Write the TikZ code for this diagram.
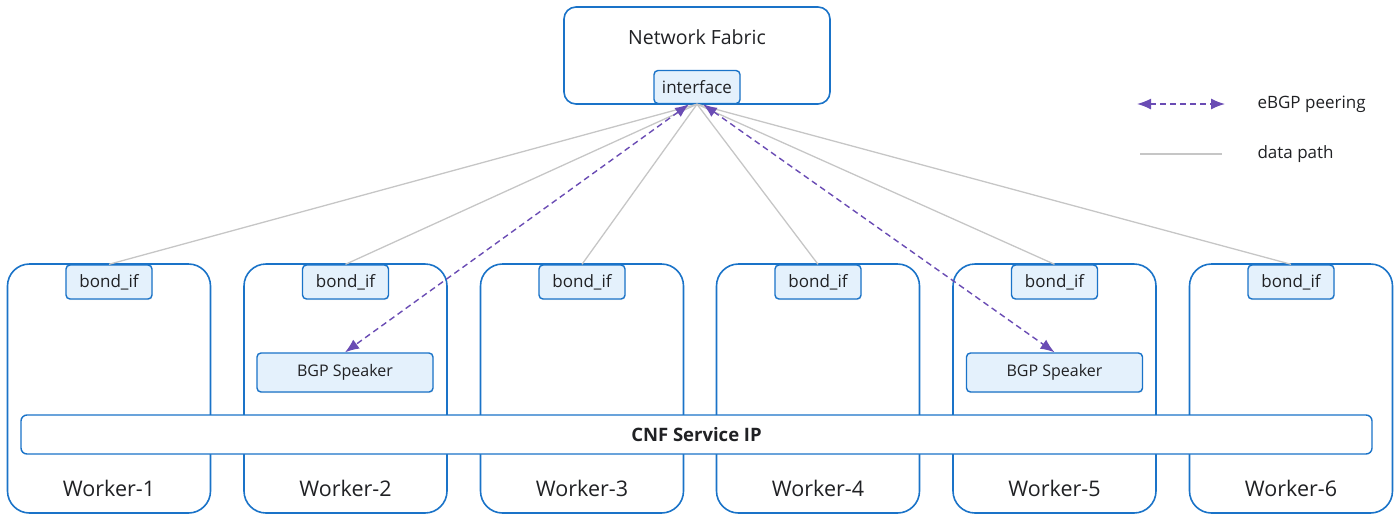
\documentclass[tikz,border=0pt]{standalone}
\usepackage{fontspec}
\setmainfont{Open Sans}
\usetikzlibrary{arrows.meta,positioning,shadows}
\definecolor{boxblue}{HTML}{1A73C8}
\definecolor{paleblue}{HTML}{E4F1FC}
\definecolor{peerpurple}{HTML}{6A4CB4}
\definecolor{pathgray}{HTML}{C6C6C6}
\definecolor{inktext}{HTML}{202124}

\begin{document}
\begin{tikzpicture}[
  x=1pt, y=-1pt, >=Latex, text=inktext,
  font=\fontsize{17}{20}\selectfont,
  workerbox/.style={draw=boxblue, line width=1.6pt, fill=white, rounded corners=22pt,
    minimum width=203pt, minimum height=249pt, inner sep=0pt},
  fabricbox/.style={draw=boxblue, line width=1.6pt, fill=white, rounded corners=12pt,
    minimum width=266pt, minimum height=97pt, inner sep=0pt},
  ifbox/.style={draw=boxblue, line width=1.4pt, fill=paleblue, rounded corners=4pt,
    minimum width=86pt, minimum height=34pt, inner sep=0pt,
    drop shadow={opacity=0.12, shadow xshift=0.6pt, shadow yshift=-1.2pt}},
  speakerbox/.style={ifbox, minimum width=176pt, minimum height=39pt,
    font=\fontsize{16}{19}\selectfont},
  servicebar/.style={draw=boxblue, line width=1.4pt, fill=white, rounded corners=6pt,
    minimum width=1351pt, minimum height=39pt, inner sep=0pt},
  datapath/.style={draw=pathgray, line width=1.3pt},
  peer/.style={<->, draw=peerpurple, line width=1.4pt, dash pattern=on 6pt off 4pt,
    >={Latex[length=14pt,width=11pt]}}
]
\useasboundingbox (0,0) rectangle (1400,520);

% -- Six worker nodes side by side, each with its bond interface on top.
\foreach \i/\x in {1/109,2/345.5,3/582,4/818,5/1054.5,6/1291} {
  \node[workerbox] (w\i) at (\x,388.5) {};
  \node[font=\fontsize{21.5}{25}\selectfont] (wl\i) at (\x,488) {Worker-\i};
}

% -- Service IP bar runs across all workers.
\node[servicebar] (cnf) at (696.5,434.5) {\fontsize{18.5}{22}\selectfont\bfseries CNF Service IP};

\foreach \i/\x in {1/109,2/345.5,3/582,4/818,5/1054.5,6/1291}
  \node[ifbox] (b\i) at (\x,282) {bond\_if};

% -- BGP speakers only on worker-2 and worker-5.
\node[speakerbox] (bgp2) at (345,372.5)  {BGP Speaker};
\node[speakerbox] (bgp5) at (1054.5,372.5) {BGP Speaker};

% -- Fabric on top with its interface.
\node[fabricbox] (fabric) at (697,55.5) {};
\node[font=\fontsize{19.5}{23}\selectfont] (fabname) at (697,37) {Network Fabric};
\node[ifbox, minimum height=33pt] (iface) at (697,87) {interface};

% -- Data paths from the fabric interface to every bond_if.
\foreach \i in {1,...,6}
  \draw[datapath] (iface.south) -- (b\i.north);

% -- eBGP sessions to the two speakers.
\draw[peer] ([xshift=-8pt]iface.south) -- (bgp2.north);
\draw[peer] ([xshift=6pt]iface.south) -- (bgp5.north);

% -- Legend.
\coordinate (lgA) at (1137,104);
\coordinate (lgB) at (1225,104);
\coordinate (lgC) at (1140,154);
\coordinate (lgD) at (1222,154);
\draw[peer] (lgA) -- (lgB);
\draw[datapath] (lgC) -- (lgD);
\node[anchor=west] (lgpeer) at (1254,104) {eBGP peering};
\node[anchor=west] (lgpath) at (1254,154) {data path};
\end{tikzpicture}
\end{document}
